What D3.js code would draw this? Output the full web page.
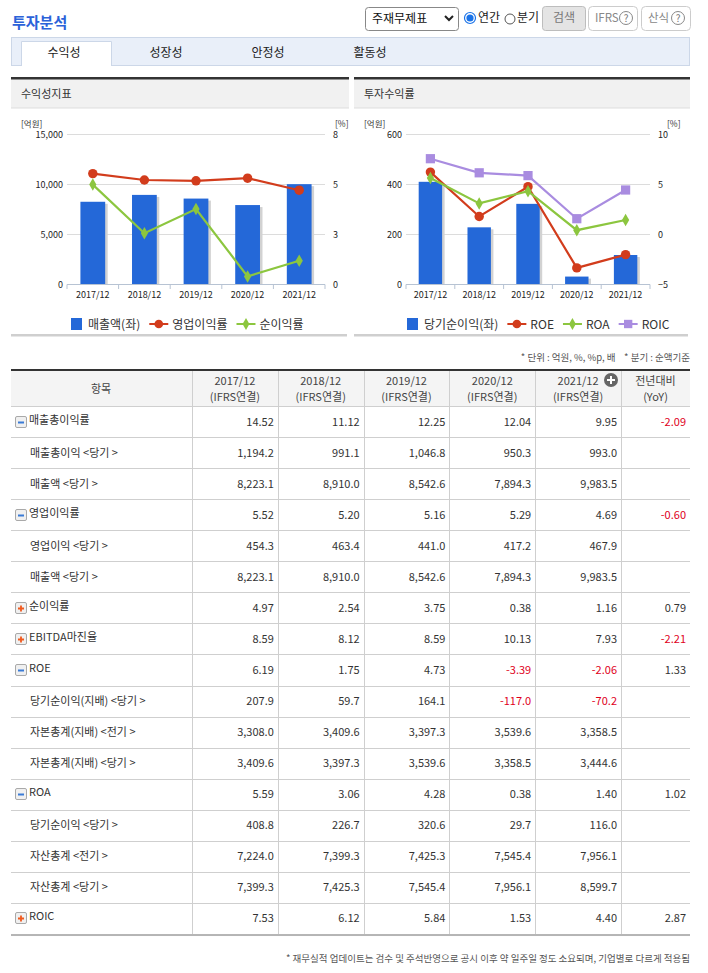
<!DOCTYPE html>
<html><head><meta charset="utf-8">
<script src="https://cdn.jsdelivr.net/npm/d3@7"></script>
<style>
body{margin:0;background:#fff;}
text{font-family:"Noto Sans CJK KR","Noto Sans",sans-serif;white-space:pre;}
</style>
</head><body>
<svg id="c" width="708" height="973"></svg>
<script>
// ---------- DATA ----------
const years = ["2017/12","2018/12","2019/12","2020/12","2021/12"];
const sales = [8223.1, 8910.0, 8542.6, 7894.3, 9983.5];
const opMargin = [5.52, 5.20, 5.16, 5.29, 4.69];
const netMargin = [4.97, 2.54, 3.75, 0.38, 1.16];
const netIncome = [408.8, 226.7, 320.6, 29.7, 116.0];
const roe = [6.19, 1.75, 4.73, -3.39, -2.06];
const roa = [5.59, 3.06, 4.28, 0.38, 1.40];
const roic = [7.53, 6.12, 5.84, 1.53, 4.40];
const leftTicks1 = [0, 5000, 10000, 15000];
const rightTicks1 = [0, 2.5, 5, 7.5];
const leftTicks2 = [0, 200, 400, 600];
const rightTicks2 = [-5, 0, 5, 10];
const tabs = ["수익성","성장성","안정성","활동성"];
const legend1 = ["매출액(좌)","영업이익률","순이익률"];
const legend2 = ["당기순이익(좌)","ROE","ROA","ROIC"];

const rowLabels = ["매출총이익률","매출총이익 <당기 >","매출액 <당기 >","영업이익률","영업이익 <당기 >","매출액 <당기 >",
  "순이익률","EBITDA마진율","ROE","당기순이익(지배) <당기 >","자본총계(지배) <전기 >","자본총계(지배) <당기 >",
  "ROA","당기순이익 <당기 >","자산총계 <전기 >","자산총계 <당기 >","ROIC"];
const rowIcons = ["minus","","","minus","","","plus","plus","minus","","","","minus","","","","plus"];
const rowIsRatio = [1,0,0,1,0,0,1,1,1,0,0,0,1,0,0,0,1];
const rowValues = [
  [14.52, 11.12, 12.25, 12.04, 9.95],
  [1194.2, 991.1, 1046.8, 950.3, 993.0],
  [8223.1, 8910.0, 8542.6, 7894.3, 9983.5],
  [5.52, 5.20, 5.16, 5.29, 4.69],
  [454.3, 463.4, 441.0, 417.2, 467.9],
  [8223.1, 8910.0, 8542.6, 7894.3, 9983.5],
  [4.97, 2.54, 3.75, 0.38, 1.16],
  [8.59, 8.12, 8.59, 10.13, 7.93],
  [6.19, 1.75, 4.73, -3.39, -2.06],
  [207.9, 59.7, 164.1, -117.0, -70.2],
  [3308.0, 3409.6, 3397.3, 3539.6, 3358.5],
  [3409.6, 3397.3, 3539.6, 3358.5, 3444.6],
  [5.59, 3.06, 4.28, 0.38, 1.40],
  [408.8, 226.7, 320.6, 29.7, 116.0],
  [7224.0, 7399.3, 7425.3, 7545.4, 7956.1],
  [7399.3, 7425.3, 7545.4, 7956.1, 8599.7],
  [7.53, 6.12, 5.84, 1.53, 4.40]
];
const rowYoY = [-2.09,null,null,-0.60,null,null,0.79,-2.21,1.33,null,null,null,1.02,null,null,null,2.87];

// ---------- DRAW ----------
const svg = d3.select("#c");
const C = {blue:"#2468d8", red:"#d23c1c", green:"#8cc63f", purple:"#a98ce0", txt:"#333"};

// Title
svg.append("text").attr("x",12).attr("y",28).attr("font-size",15).attr("font-weight","bold")
  .attr("fill","#2b62d9").text("투자분석");

// Controls
svg.append("rect").attr("x",365.5).attr("y",7.5).attr("width",93).attr("height",23).attr("rx",3)
  .attr("fill","#fff").attr("stroke","#888");
svg.append("text").attr("x",372).attr("y",23).attr("font-size",12).attr("fill","#111").text("주재무제표");
svg.append("path").attr("d","M445,16 L449,20 L453,16").attr("fill","none").attr("stroke","#222").attr("stroke-width",2);
svg.append("circle").attr("cx",470).attr("cy",18).attr("r",5.5).attr("fill","#fff").attr("stroke","#1a73e8").attr("stroke-width",1.2);
svg.append("circle").attr("cx",470).attr("cy",18).attr("r",3.6).attr("fill","#1a73e8");
svg.append("text").attr("x",478).attr("y",22).attr("font-size",12).attr("fill","#222").text("연간");
svg.append("circle").attr("cx",510).attr("cy",19).attr("r",5).attr("fill","#fff").attr("stroke","#555");
svg.append("text").attr("x",517).attr("y",22).attr("font-size",12).attr("fill","#222").text("분기");
svg.append("rect").attr("x",542.5).attr("y",6.5).attr("width",43).attr("height",24).attr("rx",3)
  .attr("fill","#e4e4e4").attr("stroke","#bdbdbd");
svg.append("text").attr("x",564).attr("y",22).attr("font-size",12).attr("text-anchor","middle").attr("fill","#777").text("검색");
[[588.5,"IFRS",595,626],[641.5,"산식",648,678]].forEach(b=>{
  svg.append("rect").attr("x",b[0]).attr("y",6.5).attr("width",49).attr("height",24).attr("rx",4)
    .attr("fill","#fff").attr("stroke","#ccc");
  svg.append("text").attr("x",b[2]).attr("y",22).attr("font-size",11.5).attr("fill","#888").text(b[1]);
  svg.append("circle").attr("cx",b[3]).attr("cy",18).attr("r",6.5).attr("fill","#fff").attr("stroke","#888");
  svg.append("text").attr("x",b[3]).attr("y",22).attr("font-size",10).attr("text-anchor","middle").attr("fill","#777").text("?");
});

// Tab bar
svg.append("rect").attr("x",11.5).attr("y",37.5).attr("width",678).attr("height",28)
  .attr("fill","#e9eff9").attr("stroke","#ccd7e8");
svg.append("path").attr("d","M21.5,66 L21.5,41.5 L111.5,41.5 L111.5,66").attr("fill","#fff").attr("stroke","#ccd7e8");
svg.append("rect").attr("x",22).attr("y",42).attr("width",89).attr("height",24.5).attr("fill","#fff");
svg.selectAll(".tab").data(tabs).join("text").attr("x",(d,i)=>64+i*102).attr("y",57)
  .attr("font-size",12).attr("text-anchor","middle").attr("fill","#222").text(d=>d);

// Panel headers
[[11,338,"수익성지표",21],[354,336,"투자수익률",364]].forEach(p=>{
  svg.append("rect").attr("x",p[0]).attr("y",79).attr("width",p[1]).attr("height",29).attr("fill","#f1f1f1");
  svg.append("rect").attr("x",p[0]).attr("y",77).attr("width",p[1]).attr("height",2.5).attr("fill","#333");
  svg.append("rect").attr("x",p[0]).attr("y",107.5).attr("width",p[1]).attr("height",1).attr("fill","#ddd");
  svg.append("text").attr("x",p[3]).attr("y",98).attr("font-size",11).attr("fill","#333").text(p[2]);
  svg.append("rect").attr("x",p[0]).attr("y",334).attr("width",p[1]-2).attr("height",2.5).attr("fill","#cfcfcf");
});

function drawChart(cfg){
  const g = svg.append("g");
  const x = d3.scaleBand().domain(years).range([cfg.x0,cfg.x1]).paddingInner(0.52).paddingOuter(0.26);
  const yL = d3.scaleLinear().domain(cfg.lDom).range([284,134]);
  const yR = d3.scaleLinear().domain(cfg.rDom).range([284,134]);
  g.selectAll(".grid").data(cfg.lTicks.filter(t=>t!==cfg.lDom[0])).join("line")
    .attr("x1",cfg.x0).attr("x2",cfg.x1).attr("y1",d=>Math.round(yL(d))+0.5).attr("y2",d=>Math.round(yL(d))+0.5)
    .attr("stroke","#dcdcdc");
  g.selectAll(".ll").data(cfg.lTicks).join("text").attr("x",cfg.x0-4).attr("y",d=>yL(d)+3.5)
    .attr("text-anchor","end").attr("font-size",9).attr("fill","#222").text(d=>d3.format(",")(d));
  g.selectAll(".rl").data(cfg.rTicks).join("text").attr("x",cfg.x1+8).attr("y",d=>yR(d)+3.5)
    .attr("font-size",9).attr("fill","#222").text(d=>d3.format(".0f")(d));
  g.append("text").attr("x",cfg.x0-46+ (cfg.uL||0)).attr("y",127).attr("font-size",8.5).attr("fill","#333").text("[억원]");
  g.append("text").attr("x",cfg.x1+cfg.pctDx).attr("y",127).attr("font-size",8.5).attr("fill","#333").text("[%]");
  g.selectAll(".sh").data(cfg.bars).join("rect")
    .attr("x",(d,i)=>x(years[i])+2.5).attr("y",d=>yL(d)+2).attr("width",x.bandwidth())
    .attr("height",d=>284-yL(d)-2).attr("fill","#d2d2d2");
  g.selectAll(".bar").data(cfg.bars).join("rect")
    .attr("x",(d,i)=>x(years[i])).attr("y",d=>yL(d)).attr("width",x.bandwidth())
    .attr("height",d=>284-yL(d)).attr("fill",C.blue);
  g.append("line").attr("x1",cfg.x0).attr("x2",cfg.x1).attr("y1",284.5).attr("y2",284.5).attr("stroke","#b7c3d3");
  const start = cfg.x0;
  g.selectAll(".tk").data(d3.range(years.length+1)).join("line")
    .attr("x1",i=>start+i*(cfg.x1-cfg.x0)/years.length).attr("x2",i=>start+i*(cfg.x1-cfg.x0)/years.length)
    .attr("y1",284.5).attr("y2",289).attr("stroke","#b7c3d3");
  g.selectAll(".xl").data(years).join("text").attr("x",d=>x(d)+x.bandwidth()/2).attr("y",298)
    .attr("text-anchor","middle").attr("font-size",9).attr("fill","#222").text(d=>d);
  const cx = i=>x(years[i])+x.bandwidth()/2;
  cfg.lines.forEach(L=>{
    const line = d3.line().x((d,i)=>cx(i)).y(d=>yR(d));
    g.append("path").attr("d",line(L.data)).attr("fill","none").attr("stroke",L.color).attr("stroke-width",2.2);
    const sym = L.shape==="circle"?d3.symbolCircle:(L.shape==="diamond"?d3.symbolDiamond:d3.symbolSquare);
    const size = L.shape==="circle"?70:(L.shape==="diamond"?45:85);
    g.selectAll(null).data(L.data).join("path")
      .attr("d",d3.symbol().type(sym).size(size))
      .attr("transform",(d,i)=>`translate(${cx(i)},${yR(d)})`).attr("fill",L.color);
  });
  const ly = 324;
  let lx = cfg.legX;
  cfg.legend.forEach((name,k)=>{
    if(k===0){
      g.append("rect").attr("x",lx).attr("y",ly-6).attr("width",11).attr("height",12).attr("fill",C.blue);
      lx += 17;
    } else {
      const L = cfg.lines[k-1];
      g.append("line").attr("x1",lx).attr("x2",lx+19).attr("y1",ly).attr("y2",ly).attr("stroke",L.color).attr("stroke-width",2);
      const sym = L.shape==="circle"?d3.symbolCircle:(L.shape==="diamond"?d3.symbolDiamond:d3.symbolSquare);
      const size = L.shape==="circle"?60:(L.shape==="diamond"?40:70);
      g.append("path").attr("d",d3.symbol().type(sym).size(size)).attr("transform",`translate(${lx+9.5},${ly})`).attr("fill",L.color);
      lx += 23;
    }
    const t = g.append("text").attr("x",lx).attr("y",ly+4.5).attr("font-size",12).attr("fill","#333").text(name);
    lx += t.node().getComputedTextLength() + 9;
  });
}

drawChart({x0:67,x1:325,lDom:[0,15000],rDom:[0,7.5],lTicks:leftTicks1,rTicks:rightTicks1,bars:sales,
  pctDx:10,legX:71,legend:legend1,
  lines:[{data:opMargin,color:C.red,shape:"circle"},{data:netMargin,color:C.green,shape:"diamond"}]});
drawChart({x0:406,x1:650,lDom:[0,600],rDom:[-5,10],lTicks:leftTicks2,rTicks:rightTicks2,bars:netIncome,
  pctDx:17,uL:4,legX:407,legend:legend2,
  lines:[{data:roe,color:C.red,shape:"circle"},{data:roa,color:C.green,shape:"diamond"},{data:roic,color:C.purple,shape:"square"}]});

// ---------- TABLE ----------
svg.append("text").attr("x",690).attr("y",361).attr("text-anchor","end").attr("font-size",9.5).attr("fill","#555")
  .text("* 단위 : 억원, %, %p, 배    * 분기 : 순액기준");
const colX = [11,192].concat(d3.range(1,6).map(i=>192+i*85.8));
colX[7] = 690;
const tTop = 371, hH = 35, rH = 31.06;
svg.append("rect").attr("x",11).attr("y",tTop).attr("width",679).attr("height",hH).attr("fill","#f4f4f4");
svg.append("rect").attr("x",11).attr("y",tTop-2).attr("width",679).attr("height",2).attr("fill","#333");
svg.append("text").attr("x",101).attr("y",393).attr("text-anchor","middle").attr("font-size",11).attr("fill","#444").text("항목");
years.forEach((y,i)=>{
  const cx = (colX[i+1]+colX[i+2])/2;
  svg.append("text").attr("x",cx).attr("y",385).attr("text-anchor","middle").attr("font-size",11).attr("fill","#444").text(y);
  svg.append("text").attr("x",cx).attr("y",401).attr("text-anchor","middle").attr("font-size",11).attr("fill","#444").text("(IFRS연결)");
});
{
  const cx = (colX[6]+colX[7])/2;
  svg.append("text").attr("x",cx).attr("y",385).attr("text-anchor","middle").attr("font-size",11).attr("fill","#444").text("전년대비");
  svg.append("text").attr("x",cx).attr("y",401).attr("text-anchor","middle").attr("font-size",11).attr("fill","#444").text("(YoY)");
  svg.append("circle").attr("cx",611).attr("cy",380).attr("r",7).attr("fill","#666");
  svg.append("path").attr("d","M607,380 L615,380 M611,376 L611,384").attr("stroke","#fff").attr("stroke-width",2);
}
const bottom = tTop+hH+rH*rowLabels.length;
rowLabels.forEach((lab,r)=>{
  const y0 = tTop+hH+r*rH, cy = y0+rH/2;
  svg.append("line").attr("x1",11).attr("x2",690).attr("y1",Math.round(y0)+0.5).attr("y2",Math.round(y0)+0.5).attr("stroke","#cfcfcf");
  const ic = rowIcons[r];
  if(ic){
    svg.append("rect").attr("x",15.5).attr("y",Math.round(cy)-5.5).attr("width",11).attr("height",11).attr("rx",1.5)
      .attr("fill","#f0f0f0").attr("stroke","#a9a9a9");
    if(ic==="minus") svg.append("rect").attr("x",18).attr("y",Math.round(cy)-0.5).attr("width",6).attr("height",2).attr("fill","#3a7bd5");
    else svg.append("path").attr("d",`M18,${Math.round(cy)+0.5} L24,${Math.round(cy)+0.5} M21,${Math.round(cy)-2.5} L21,${Math.round(cy)+3.5}`)
      .attr("stroke","#f05a1e").attr("stroke-width",1.8);
    svg.append("text").attr("x",29).attr("y",cy+2).attr("font-size",11).attr("fill","#333").text(lab);
  } else {
    svg.append("text").attr("x",30).attr("y",cy+4).attr("font-size",11).attr("fill","#333").text(lab);
  }
  const fmt = rowIsRatio[r] ? d3.format(".2f") : d3.format(",.1f");
  rowValues[r].forEach((v,i)=>{
    svg.append("text").attr("x",colX[i+2]-4).attr("y",cy+4).attr("text-anchor","end").attr("font-size",11)
      .attr("fill",v<0?"#e0001b":"#333").text(fmt(v).replace("−","-"));
  });
  const yy = rowYoY[r];
  if(yy!==null){
    svg.append("text").attr("x",686).attr("y",cy+4).attr("text-anchor","end").attr("font-size",11)
      .attr("fill",yy<0?"#e0001b":"#333").text(d3.format(".2f")(yy).replace("−","-"));
  }
});
colX.slice(1,7).forEach(cx=>{
  svg.append("line").attr("x1",Math.round(cx)+0.5).attr("x2",Math.round(cx)+0.5).attr("y1",tTop).attr("y2",bottom).attr("stroke","#cfcfcf");
});
svg.append("line").attr("x1",11).attr("x2",690).attr("y1",Math.round(tTop+hH)+0.5).attr("y2",Math.round(tTop+hH)+0.5).attr("stroke","#cfcfcf");
svg.append("rect").attr("x",11).attr("y",bottom).attr("width",679).attr("height",2).attr("fill","#b5b5b5");
svg.append("text").attr("x",690).attr("y",962).attr("text-anchor","end").attr("font-size",9.5).attr("fill","#555")
  .text("* 재무실적 업데이트는 검수 및 주석반영으로 공시 이후 약 일주일 정도 소요되며, 기업별로 다르게 적용됨");
</script>
</body></html>
